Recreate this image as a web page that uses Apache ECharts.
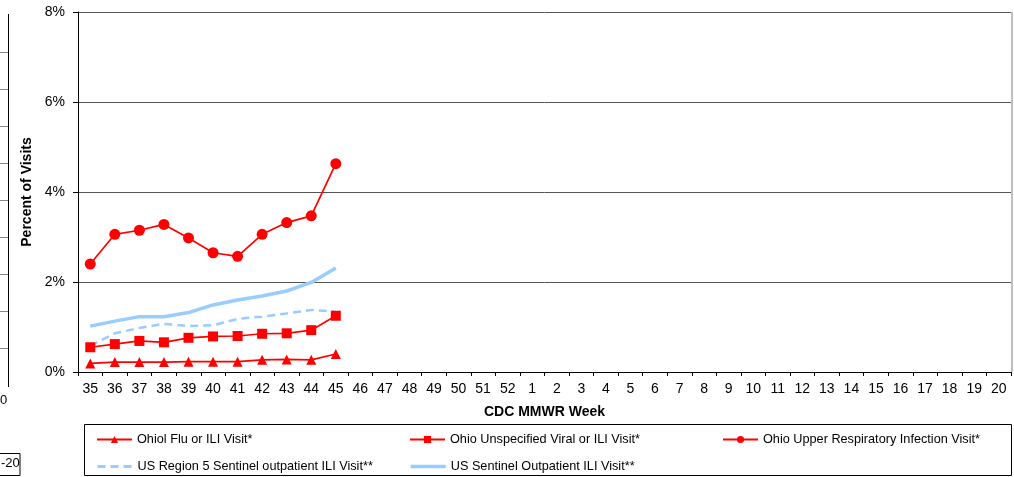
<!DOCTYPE html>
<html><head><meta charset="utf-8">
<script src="https://cdn.jsdelivr.net/npm/echarts@6/dist/echarts.min.js"></script>
<style>html,body{margin:0;padding:0;background:#fff}#c{width:1014px;height:477px}</style>
</head><body><div id="c"></div>
<script>
var weeks = ['35','36','37','38','39','40','41','42','43','44','45','46','47','48','49','50','51','52','1','2','3','4','5','6','7','8','9','10','11','12','13','14','15','16','17','18','19','20'];
var ohioFlu = [0.19,0.22,0.22,0.22,0.23,0.23,0.23,0.27,0.28,0.27,0.40];
var ohioViral = [0.55,0.62,0.69,0.66,0.76,0.79,0.80,0.85,0.86,0.93,1.25];
var ohioUpper = [2.40,3.06,3.15,3.28,2.98,2.65,2.57,3.06,3.32,3.47,4.63];
var usRegion5 = [0.58,0.86,0.98,1.07,1.02,1.04,1.18,1.23,1.30,1.38,1.34];
var usSentinel = [1.02,1.13,1.23,1.23,1.32,1.49,1.60,1.69,1.80,1.99,2.31];
var yTicks = [0,2,4,6,8];
var names = ['Ohiol Flu or ILI Visit*','Ohio Unspecified Viral or ILI Visit*','Ohio Upper Respiratory Infection Visit*','US Region 5 Sentinel outpatient ILI Visit**','US Sentinel Outpatient ILI Visit**'];

var chart = echarts.init(document.getElementById('c'));
var FONT = 'Arial, "Liberation Sans", sans-serif';
function leg(name, left, top, extra){
  var l = {data:[name], left:left, top:top, itemWidth:35, itemHeight:9, itemGap:4, selectedMode:false,
    textStyle:{fontFamily:FONT, fontSize:12.7, color:'#000', padding:[0,0,0,0]}, padding:0};
  if (extra) for (var k in extra) l[k] = extra[k];
  return l;
}
var gfx = [
  {type:'rect', shape:{x:84.5,y:424.5,width:927,height:51}, style:{fill:'none', stroke:'#000', lineWidth:1}},
  {type:'line', shape:{x1:1012,y1:12,x2:1012,y2:372}, style:{stroke:'#c0c0c0', lineWidth:2}},
  {type:'line', shape:{x1:8.5,y1:14,x2:8.5,y2:387}, style:{stroke:'#000', lineWidth:1}},
  {type:'text', x:0, y:394, style:{text:'0', fontFamily:FONT, fontSize:13, fill:'#000'}},
  {type:'rect', shape:{x:-5,y:453.5,width:25,height:22}, style:{fill:'none', stroke:'#000', lineWidth:1}},
  {type:'text', x:1, y:457, style:{text:'-20', fontFamily:FONT, fontSize:13, fill:'#000'}}
];
[52,89,126,163,200,237,274,311,348].forEach(function(y){
  gfx.push({type:'line', shape:{x1:0,y1:y+0.5,x2:8,y2:y+0.5}, style:{stroke:'#888', lineWidth:1}});
});
var option = {
  animation:false,
  backgroundColor:'#fff',
  grid:{left:78, right:3, top:12, bottom:105, containLabel:false},
  xAxis:{type:'category', data:weeks, boundaryGap:true,
    name:'CDC MMWR Week', nameLocation:'middle', nameGap:33,
    nameTextStyle:{fontFamily:FONT, fontSize:14, fontWeight:'bold', color:'#000'},
    axisLine:{lineStyle:{color:'#000', width:1}},
    axisTick:{show:true, length:4, lineStyle:{color:'#000'}, interval:0},
    axisLabel:{interval:0, fontFamily:FONT, fontSize:14, color:'#000', margin:10},
    splitLine:{show:false}},
  yAxis:{type:'value', min:0, max:8, interval:2,
    name:'Percent of Visits', nameLocation:'middle', nameGap:44,
    nameTextStyle:{fontFamily:FONT, fontSize:14, fontWeight:'bold', color:'#000'},
    axisLine:{show:true, lineStyle:{color:'#000', width:1}},
    axisTick:{show:true, length:5, lineStyle:{color:'#000'}},
    axisLabel:{formatter:'{value}%', fontFamily:FONT, fontSize:14, color:'#000', margin:13},
    splitLine:{show:true, lineStyle:{color:'#555', width:1}}},
  legend:[
    leg(names[0],96,433),
    leg(names[1],409,433),
    leg(names[2],722,433),
    leg(names[3],96,460,{itemStyle:{opacity:0}, lineStyle:{width:3, type:[8,5]}}),
    leg(names[4],409,460,{itemStyle:{opacity:0}, lineStyle:{width:3.5}})
  ],
  series:[
    {name:names[0], type:'line', data:ohioFlu, symbol:'triangle', symbolSize:10, color:'#ff0000',
      lineStyle:{color:'#ff0000', width:1.7}, itemStyle:{color:'#ff0000'}, z:5},
    {name:names[1], type:'line', data:ohioViral, symbol:'rect', symbolSize:10, color:'#ff0000',
      lineStyle:{color:'#ff0000', width:1.7}, itemStyle:{color:'#ff0000'}, z:5},
    {name:names[2], type:'line', data:ohioUpper, symbol:'circle', symbolSize:11, color:'#ff0000',
      lineStyle:{color:'#ff0000', width:1.7}, itemStyle:{color:'#ff0000'}, z:5},
    {name:names[3], type:'line', data:usRegion5, symbol:'none', showSymbol:false, color:'#99ccff',
      lineStyle:{color:'#99ccff', width:2.5, type:[8,5]}, z:3},
    {name:names[4], type:'line', data:usSentinel, symbol:'none', showSymbol:false, color:'#99ccff',
      lineStyle:{color:'#99ccff', width:3.5}, z:3}
  ],
  graphic:gfx
};
chart.setOption(option);
</script></body></html>
